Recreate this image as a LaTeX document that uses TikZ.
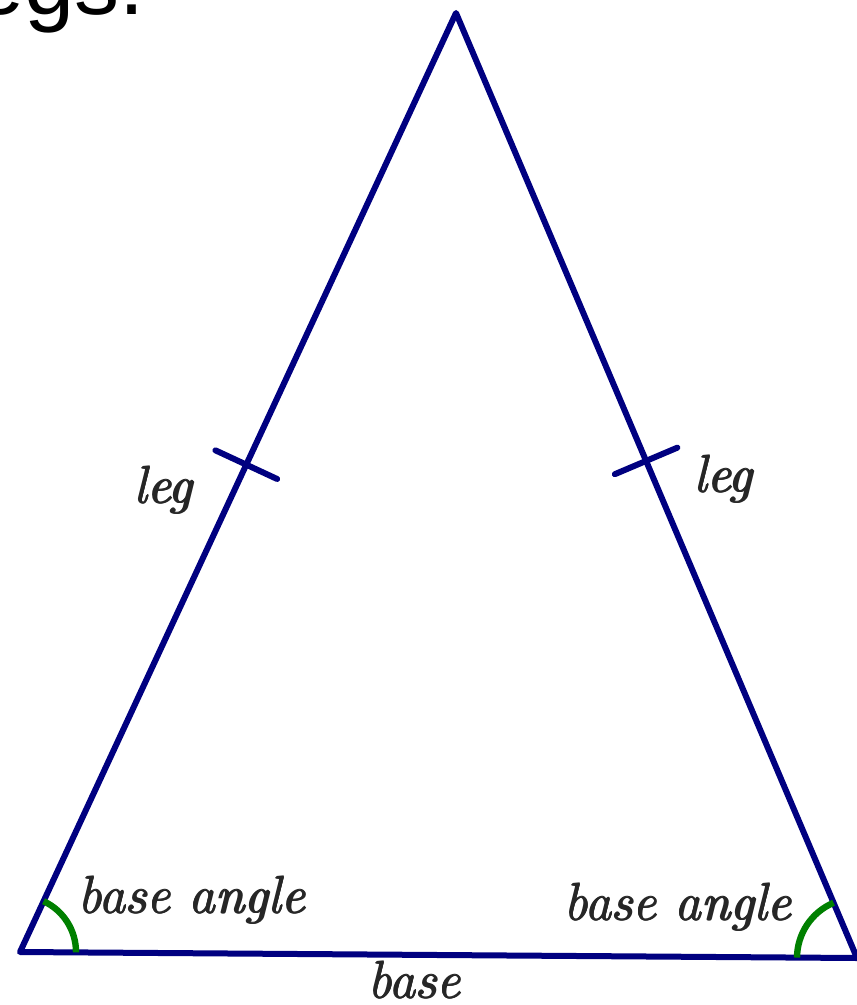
\documentclass[tikz,border=0pt]{standalone}
\usepackage{fontspec}
\newfontfamily\topfont{Liberation Sans}
\newfontfamily\lblfont{Latin Modern Roman}
\newcommand\thickentext[1]{\rlap{#1}\rlap{\kern0.7pt #1}\rlap{\kern0.35pt\raise0.35pt\hbox{#1}}\kern0.35pt\lower0.3pt\hbox{#1}}
\usetikzlibrary{calc}
\definecolor{navyline}{RGB}{0,0,128}
\definecolor{anglegreen}{RGB}{0,128,0}
\tikzset{
  side/.style={draw=navyline, line width=3pt, line cap=round, line join=round},
  tick/.style={draw=navyline, line width=3pt, line cap=round},
  anglearc/.style={draw=anglegreen, line width=3.2pt},
  lbl/.style={inner sep=0pt, anchor=base west, text=black!85,
    font=\lblfont\fontsize{26.4pt}{30pt}\selectfont\itshape},
}
\begin{document}
\begin{tikzpicture}[x=0.5pt,y=-0.5pt]
\useasboundingbox (0,0) rectangle (856,1005);
\coordinate (T) at (456,13);
\coordinate (L) at (20,952);
\coordinate (R) at (857,958);
% top cut-off text
\node[inner sep=0pt, anchor=base east, font=\fontsize{45pt}{50pt}\selectfont\topfont] (toptext) at (145,15) {legs.};
% triangle
\draw[side] (T) -- (L) -- (R) -- cycle;
% ticks
\coordinate (m1) at ($(T)!0.481!(L)$);
\coordinate (m2) at ($(T)!0.474!(R)$);
\draw[tick] ($(m1)!17pt!90:(T)$) -- ($(m1)!17pt!-90:(T)$);
\draw[tick] ($(m2)!17pt!90:(T)$) -- ($(m2)!17pt!-90:(T)$);
% angle arcs
\draw[anglearc] ($(L)+(-0.4:28pt)$) arc[start angle=-0.4, end angle=65.1, radius=28pt];
\draw[anglearc] ($(R)+(113:30pt)$) arc[start angle=113, end angle=179.6, radius=30pt];
% labels
\node[lbl] (legL) at (133,503) {\thickentext{leg}};
\node[lbl] (legR) at (693,492) {\thickentext{leg}};
\node[lbl] (baL) at (77,913) {\thickentext{base angle}};
\node[lbl] (baR) at (563,920) {\thickentext{base angle}};
\node[lbl] (base) at (367,998) {\thickentext{base}};
\end{tikzpicture}
\end{document}
